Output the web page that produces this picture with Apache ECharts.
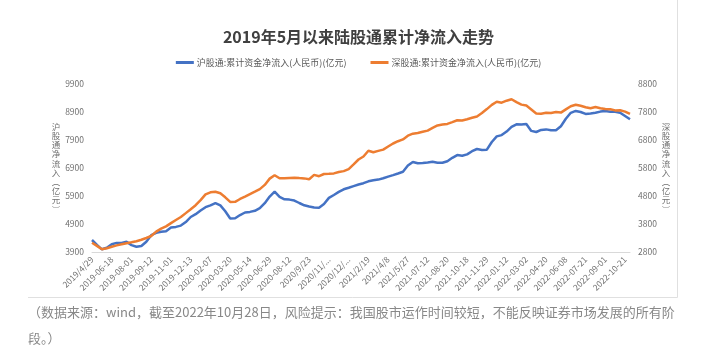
<!DOCTYPE html>
<html><head><meta charset="utf-8">
<script src="https://cdn.jsdelivr.net/npm/echarts@6/dist/echarts.min.js"></script>
<style>html,body{margin:0;padding:0;background:#fff}#c{width:717px;height:361px}</style>
</head><body><div id="c"></div>
<script>
const xLabels = ['2019/4/29','2019-06-18','2019-08-01','2019-09-12','2019-11-01','2019-12-13','2020-02-07','2020-03-20','2020-05-14','2020-06-29','2020-08-12','2020/9/23','2020/11/...','2020/12/...','2021/2/19','2021/4/8','2021/5/27','2021-07-12','2021-08-20','2021-10-18','2021-11-29','2022-01-12','2022-03-02','2022-04-20','2022-06-08','2022-07-21','2022-09-01','2022-10-21'];
const lastDate = '2022-10-28';
const stepsPerLabel = 4;

const shValues = [4329,4154,3996,4050,4175,4225,4221,4264,4146,4089,4114,4268,4500,4582,4625,4643,4771,4796,4843,4968,5150,5250,5382,5500,5568,5646,5564,5354,5096,5107,5221,5311,5332,5371,5464,5643,5879,6054,5868,5782,5771,5736,5650,5568,5525,5489,5479,5611,5832,5936,6046,6139,6196,6254,6311,6357,6425,6461,6486,6532,6593,6646,6704,6764,6989,7114,7071,7082,7100,7121,7089,7089,7143,7264,7361,7336,7386,7500,7579,7543,7554,7829,8029,8075,8200,8368,8461,8454,8471,8225,8186,8261,8279,8250,8246,8393,8657,8871,8939,8900,8832,8850,8871,8914,8936,8911,8911,8871,8757,8639];
const szValues = [3132,3018,2896,2932,2989,3036,3075,3114,3146,3186,3236,3300,3371,3529,3632,3714,3832,3943,4050,4189,4329,4471,4654,4857,4932,4950,4896,4754,4589,4593,4693,4779,4868,4954,5046,5196,5421,5543,5432,5436,5446,5450,5439,5429,5400,5554,5507,5586,5596,5607,5657,5689,5761,5929,6104,6211,6418,6364,6411,6457,6568,6675,6757,6821,6954,7025,7050,7093,7136,7232,7318,7350,7375,7439,7504,7496,7539,7593,7639,7761,7904,8054,8168,8132,8204,8254,8150,8064,8029,7889,7746,7739,7771,7764,7800,7779,7893,8007,8061,8021,7971,7936,7979,7936,7911,7896,7857,7861,7814,7729];

const leftAxis = {min: 3900, max: 9900, interval: 1000};
const rightAxis = {min: 2800, max: 8800, interval: 1000};

const seriesNames = ['沪股通:累计资金净流入(人民币)(亿元)', '深股通:累计资金净流入(人民币)(亿元)'];
const titleText = '2019年5月以来陆股通累计净流入走势';
const leftName = '沪股通净流入︵亿元︶';
const rightName = '深股通净流入︵亿元︶';
const caption1 = '（数据来源：wind，截至2022年10月28日，风险提示：我国股市运作时间较短，不能反映证券市场发展的所有阶';
const caption2 = '段。）';

const categories = [];
xLabels.forEach((l, j) => {
  categories.push(l);
  if (j < xLabels.length - 1) {
    for (let k = 1; k < stepsPerLabel; k++) categories.push(l + '#' + k);
  }
});
categories.push(lastDate + '#end');

const FONT = '"Noto Sans CJK SC", "Noto Sans", sans-serif';
const plain = v => String(v);
const chart = echarts.init(document.getElementById('c'), null, {renderer: 'canvas'});
chart.setOption({
  animation: false,
  backgroundColor: '#fff',
  textStyle: {fontFamily: FONT},
  title: {
    text: titleText, left: 'center', top: 24,
    textStyle: {fontSize: 16, fontWeight: 'bold', color: '#404040', fontFamily: FONT}
  },
  legend: {
    top: 53, left: 'center', itemGap: 24, itemWidth: 18, itemHeight: 3,
    icon: 'rect',
    textStyle: {fontSize: 9, color: '#595959', fontFamily: FONT, padding: [0, 0, 0, -2]},
    data: seriesNames
  },
  grid: {left: 92, right: 87, top: 84, bottom: 109, containLabel: false},
  xAxis: {
    type: 'category', data: categories, boundaryGap: false,
    axisLine: {lineStyle: {color: '#d9d9d9', width: 1}},
    axisTick: {show: false},
    axisLabel: {
      interval: stepsPerLabel - 1, rotate: 45, fontSize: 8.5, color: '#707070', margin: 6,
      fontFamily: FONT
    },
    splitLine: {show: false}
  },
  yAxis: [
    {
      type: 'value', min: leftAxis.min, max: leftAxis.max, interval: leftAxis.interval,
      axisLine: {show: false}, axisTick: {show: false}, splitLine: {show: false},
      axisLabel: {fontSize: 8.5, color: '#707070', margin: 8, fontFamily: FONT, formatter: plain}
    },
    {
      type: 'value', min: rightAxis.min, max: rightAxis.max, interval: rightAxis.interval,
      position: 'right',
      axisLine: {show: false}, axisTick: {show: false}, splitLine: {show: false},
      axisLabel: {fontSize: 8.5, color: '#707070', margin: 8, fontFamily: FONT, formatter: plain}
    }
  ],
  series: [
    {name: seriesNames[0], type: 'line', yAxisIndex: 0, data: shValues, showSymbol: false,
     lineStyle: {color: '#4472C4', width: 2.5}, itemStyle: {color: '#4472C4'}},
    {name: seriesNames[1], type: 'line', yAxisIndex: 1, data: szValues, showSymbol: false,
     lineStyle: {color: '#ED7D31', width: 2.5}, itemStyle: {color: '#ED7D31'}}
  ],
  graphic: [
    {type: 'line', shape: {x1: 28, y1: 297.5, x2: 677.5, y2: 297.5}, style: {stroke: '#e0e0e0', lineWidth: 1}, z: -1},
    {type: 'line', shape: {x1: 677.5, y1: 0, x2: 677.5, y2: 297.5}, style: {stroke: '#e0e0e0', lineWidth: 1}, z: -1},
    {type: 'text', x: 56, y: 168, style: {text: leftName.split('').join('\n'), fontSize: 8.5, lineHeight: 9.2, fill: '#707070', align: 'center', verticalAlign: 'middle', fontFamily: FONT}},
    {type: 'text', x: 666, y: 168, style: {text: rightName.split('').join('\n'), fontSize: 8.5, lineHeight: 9.2, fill: '#707070', align: 'center', verticalAlign: 'middle', fontFamily: FONT}},
    {type: 'text', x: 28, y: 312, style: {text: caption1, fontSize: 13, fill: '#888', verticalAlign: 'middle', fontFamily: FONT}},
    {type: 'text', x: 28, y: 338, style: {text: caption2, fontSize: 13, fill: '#888', verticalAlign: 'middle', fontFamily: FONT}}
  ]
});
</script></body></html>
